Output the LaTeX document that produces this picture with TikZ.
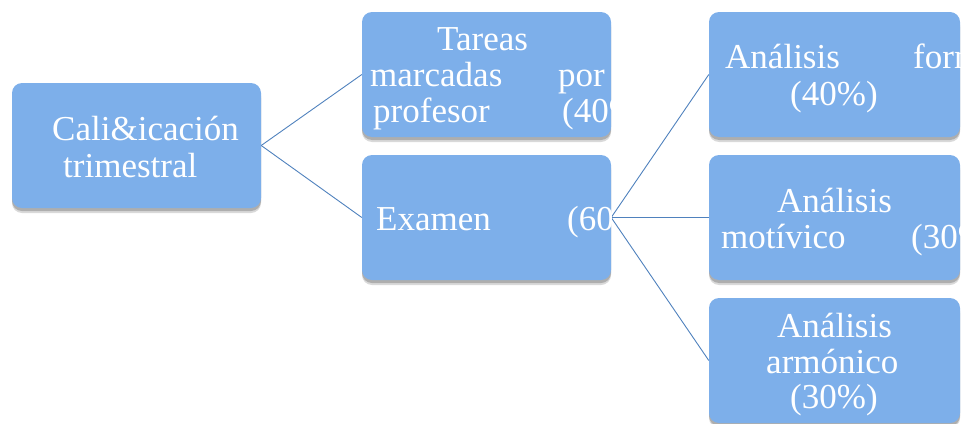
\documentclass[tikz,border=0pt]{standalone}
\usepackage{fontspec}
\setmainfont{Liberation Serif}
\usetikzlibrary{shadows}
\definecolor{boxfill}{RGB}{125,175,234}
\definecolor{linkcol}{RGB}{79,129,189}
\tikzset{
  box/.style={rounded corners=10pt, fill=boxfill, minimum width=249pt, minimum height=125pt, inner sep=0pt,
    drop shadow={shadow xshift=0pt, shadow yshift=-5pt, opacity=0.15, fill=black},
    drop shadow={shadow xshift=0pt, shadow yshift=-3pt, opacity=0.2, fill=black}},
  wbox/.style={box, minimum width=251pt},
  txt/.style={anchor=base west, inner sep=0pt, text=white, font=\fontsize{35}{37}\selectfont},
  link/.style={draw=linkcol, line width=0.9pt}
}
\begin{document}
\begin{tikzpicture}[x=1pt,y=-1pt]
\useasboundingbox (0,0) rectangle (966,423);
\node[box] (b1) at (136.5,145.5) {};
\node[box] (b2) at (486.5,74.5) {};
\node[box] (b3) at (486.5,217.5) {};
\node[wbox] (b4) at (834.5,74.5) {};
\node[wbox] (b5) at (834.5,217.5) {};
\node[wbox] (b6) at (834.5,360.5) {};
\draw[link] (b1.east) -- (b2.west);
\draw[link] (b1.east) -- (b3.west);
\draw[link] (b3.east) -- (b4.west);
\draw[link] (b3.east) -- (b5.west);
\draw[link] (b3.east) -- (b6.west);
\begin{scope}
\clip (b1.south west) rectangle (b1.north east);
\node[txt] (t1a) at (52,140) {Cali\&icación};
\node[txt] (t1b) at (63,177) {trimestral};
\end{scope}
\begin{scope}
\clip (b2.south west) rectangle (b2.north east);
\node[txt] (t2a) at (437,50) {Tareas};
\node[txt] (t2b) at (370,86) {marcadas};
\node[txt] (t2c) at (558,86) {por};
\node[txt] (t2d) at (373,122) {profesor};
\node[txt] (t2e) at (562,122) {(40\%)};
\end{scope}
\begin{scope}
\clip (b3.south west) rectangle (b3.north east);
\node[txt] (t3a) at (376,230) {Examen};
\node[txt] (t3b) at (567,230) {(60\%)};
\end{scope}
\begin{scope}
\clip (b4.south west) rectangle (b4.north east);
\node[txt] (t4a) at (725,68) {Análisis};
\node[txt] (t4b) at (913,68) {formal};
\node[txt] (t4c) at (790,105) {(40\%)};
\end{scope}
\begin{scope}
\clip (b5.south west) rectangle (b5.north east);
\node[txt] (t5a) at (777,212) {Análisis};
\node[txt] (t5b) at (721,248) {motívico};
\node[txt] (t5c) at (911,248) {(30\%)};
\end{scope}
\begin{scope}
\clip (b6.south west) rectangle (b6.north east);
\node[txt] (t6a) at (777,337) {Análisis};
\node[txt] (t6b) at (766,373) {armónico};
\node[txt] (t6c) at (790,408) {(30\%)};
\end{scope}
\end{tikzpicture}
\end{document}
